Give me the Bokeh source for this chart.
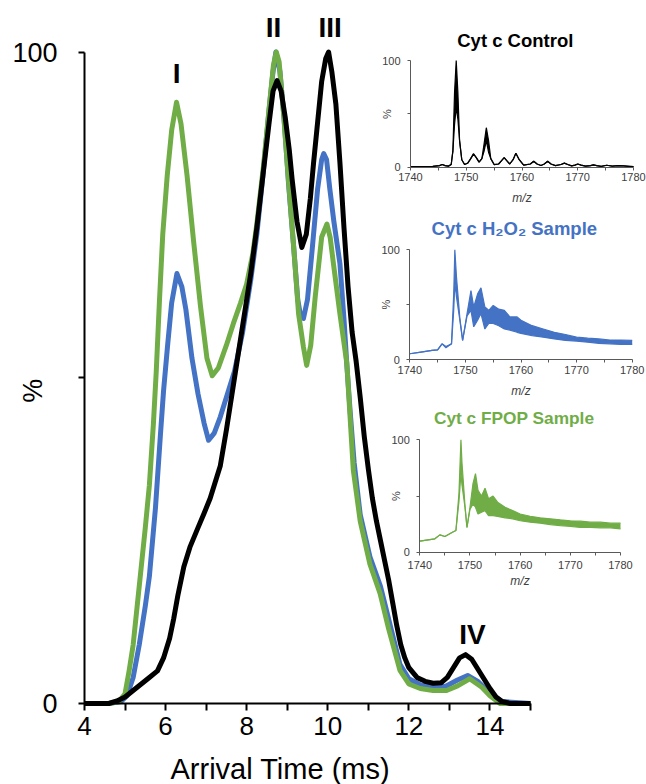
import math
from bokeh.plotting import figure
from bokeh.models import Range1d, LinearAxis, FixedTicker, Label
from bokeh.core.properties import value
from bokeh.embed import file_html
from bokeh.resources import INLINE

# ---------------- data: arrival time distributions (main plot) ----------------
control_time = [4.0, 4.6, 4.8, 5.0, 5.2, 5.4, 5.6, 5.8, 5.95, 6.1, 6.2, 6.3, 6.45, 6.6, 6.8, 6.95,
                7.1, 7.25, 7.35, 7.5, 7.7, 7.9, 8.1, 8.25, 8.4, 8.55, 8.65, 8.75, 8.85, 8.95, 9.05,
                9.12, 9.24, 9.36, 9.47, 9.57, 9.65, 9.73, 9.85, 9.95, 10.02, 10.1, 10.2, 10.3, 10.4,
                10.5, 10.6, 10.7, 10.8, 10.9, 11.0, 11.1, 11.2, 11.3, 11.4, 11.5, 11.6, 11.7, 11.8,
                11.9, 12.0, 12.2, 12.4, 12.6, 12.8, 12.95, 13.1, 13.25, 13.4, 13.55, 13.7, 13.85,
                14.0, 14.15, 14.3, 14.5, 15.0]
control_pct = [0, 0, 0.4, 1.0, 2.0, 3.0, 4.0, 5.0, 7.0, 10.0, 13.0, 16.5, 21.0, 24.0, 27.0, 29.2,
               31.5, 34.5, 36.5, 42, 50, 58, 66, 73, 81, 89, 94, 95.6, 94, 90, 85,
               80.5, 74, 70, 72, 77.5, 83, 88, 95.5, 99, 100, 97, 92, 83, 73,
               64, 57, 52.5, 47, 41, 36, 31.5, 28, 25, 22, 19, 15.5, 12, 9,
               7, 5.5, 4, 3.4, 3.1, 3.2, 4, 5.5, 7, 7.5, 6.8, 5.3, 3.8,
               2.3, 1.0, 0.3, 0, 0]

h2o2_time = [4.0, 4.6, 4.9, 5.05, 5.2, 5.35, 5.5, 5.6, 5.75, 5.87, 5.95, 6.05, 6.15, 6.28, 6.4,
             6.5, 6.65, 6.8, 6.95, 7.06, 7.2, 7.35, 7.5, 7.7, 7.9, 8.1, 8.25, 8.4, 8.55, 8.65,
             8.72, 8.82, 8.92, 9.03, 9.16, 9.26, 9.33, 9.4, 9.5, 9.62, 9.75, 9.85, 9.9, 9.97,
             10.05, 10.15, 10.3, 10.4, 10.47, 10.55, 10.65, 10.8, 11.04, 11.3, 11.5, 11.78, 12.0,
             12.3, 12.9, 13.2, 13.45, 13.7, 14.0, 14.3, 15.0]
h2o2_pct = [0, 0, 0.3, 1.2, 4, 9, 15, 19.5, 30, 41, 48, 55, 61.5, 66, 64,
            60.5, 53, 47.5, 43, 40.4, 41.5, 44, 47, 51, 57, 65, 72, 81, 91, 97,
            100, 97, 90, 80, 70, 62, 59.5, 59.1, 62, 70, 79, 83.5, 84.4, 83.5,
            79, 74, 67.5, 59, 52, 45, 37, 29, 22.5, 18, 13, 6, 3.8,
            2.8, 2.6, 3.6, 4.3, 3.4, 1.6, 0.3, 0]

fpop_time = [4.0, 4.6, 4.85, 5.0, 5.1, 5.2, 5.3, 5.4, 5.5, 5.6, 5.7, 5.77, 5.85, 5.93, 6.04,
             6.15, 6.27, 6.38, 6.53, 6.69, 6.86, 7.02, 7.15, 7.3, 7.5, 7.67, 7.85, 8.0, 8.15,
             8.25, 8.42, 8.58, 8.66, 8.73, 8.8, 8.91, 9.03, 9.16, 9.28, 9.4, 9.48, 9.58, 9.69,
             9.85, 9.98, 10.06, 10.14, 10.3, 10.47, 10.63, 10.8, 11.04, 11.29, 11.5, 11.78,
             12.0, 12.28, 12.6, 12.93, 13.2, 13.5, 13.8, 14.0, 14.25, 15.0]
fpop_pct = [0, 0, 0.3, 1.5, 5, 9, 15, 21, 27, 33.5, 43, 51, 62, 72, 81,
            88, 92.3, 89, 81, 71, 61, 53, 50.3, 51.5, 55, 58.3, 61.5, 64.4, 69,
            73.6, 82.8, 93, 98, 100, 98.5, 90.5, 80.3, 70, 59.8, 54.7, 51.9, 55, 62.4,
            71.6, 73.6, 71.5, 67.5, 59.8, 52.2, 35.8, 28, 21.4, 16.9, 11.5, 5.1,
            3.0, 2.3, 2.0, 2.0, 2.7, 3.8, 2.5, 1.2, 0, 0]

numerals = ["I", "II", "III", "IV"]
numeral_time = [6.27, 8.66, 10.06, 13.57]
numeral_pct = [96.7, 103.7, 103.7, 10.6]

main_x_ticks = [4, 6, 8, 10, 12, 14]
main_x_minor = [5, 7, 9, 11, 13, 15]
main_y_ticks = [0, 50, 100]
main_x_title = "Arrival Time (ms)"
main_y_title = "%"

# ---------------- data: mass spectra (insets), lower/upper envelope ----------------
ctrl_mz = [1740, 1742, 1744, 1745.2, 1745.7, 1746.2, 1746.8, 1747.3, 1747.6, 1747.9, 1748.2,
           1748.5, 1748.8, 1749.2, 1749.7, 1750.3, 1750.8, 1751.3, 1751.8, 1752.3, 1752.8,
           1753.2, 1753.6, 1754.0, 1754.4, 1755.0, 1755.8, 1756.3, 1756.8, 1757.3, 1757.8,
           1758.4, 1758.9, 1759.5, 1760.3, 1761.5, 1762.1, 1762.7, 1763.4, 1764.0, 1764.6,
           1765.2, 1766.0, 1767.0, 1767.6, 1768.2, 1768.9, 1769.5, 1770.0, 1770.6, 1771.4,
           1772.3, 1772.8, 1773.4, 1774.2, 1775.2, 1776.2, 1777.2, 1778.2, 1779.2, 1780]
ctrl_hi = [0.6, 0.6, 0.8, 1.5, 2.5, 1.5, 1.0, 2.5, 15, 70, 100, 70, 25, 7, 2.5, 4, 8, 12.5, 9,
           4.7, 8, 22, 37, 25, 8, 2.5, 3, 6, 9, 6, 3, 7, 13, 7, 2, 3, 5.6, 3, 1.6, 3, 5.6, 3,
           1.5, 2.5, 3.8, 2.5, 1.2, 2, 3, 2, 1, 1.5, 2.2, 1.5, 0.8, 1.8, 1.0, 1.5, 1.2, 0.8, 0.5]
ctrl_lo = [0.6, 0.6, 0.8, 1.5, 2.5, 1.5, 1.0, 2.5, 15, 40, 56, 45, 25, 7, 2.5, 4, 8, 12.5, 9,
           4.7, 8, 15, 25, 14, 8, 2.5, 3, 6, 9, 6, 3, 7, 13, 7, 2, 3, 5.6, 3, 1.6, 3, 5.6, 3,
           1.5, 2.5, 3.8, 2.5, 1.2, 2, 3, 2, 1, 1.5, 2.2, 1.5, 0.8, 1.8, 1.0, 1.5, 1.2, 0.8, 0.5]

h2o2_mz = [1740, 1742, 1744, 1745, 1745.8, 1746.5, 1747.5, 1747.9, 1748.1, 1748.4, 1749.0,
           1749.5, 1750.3, 1751.0, 1751.5, 1752.2, 1752.8, 1753.5, 1754.2, 1755.0, 1756.0,
           1757.0, 1758.0, 1759.3, 1760.0, 1762.0, 1764.0, 1766.0, 1768.0, 1770.0, 1772.0,
           1774.0, 1776.0, 1778.0, 1780.0]
h2o2_hi = [5.5, 7, 8.5, 9, 14.5, 12, 14.5, 60, 100, 75, 38, 17.6, 42, 63, 48, 60, 65.5, 48, 45,
           49.4, 46, 45, 39, 39, 36, 31, 28, 25, 23, 20.6, 19.7, 19, 18, 18, 17.6]
h2o2_lo = [5.5, 7, 8.5, 9, 14.5, 11, 14.5, 45, 70, 57, 36, 17.6, 40, 45, 30, 36, 42, 28, 33,
           33, 31, 28, 27, 25, 24, 22, 20.6, 19, 17.6, 17, 16, 15, 14.5, 14, 14]

fpop_mz = [1740, 1743, 1744, 1745, 1746.5, 1747.2, 1747.8, 1748.2, 1748.4, 1749.0, 1749.4,
           1750.0, 1750.6, 1751.1, 1751.6, 1752.3, 1753.0, 1753.7, 1754.6, 1755.5, 1757.0,
           1758.5, 1760.0, 1762.0, 1764.0, 1766.0, 1768.0, 1770.0, 1772.0, 1774.0, 1776.0,
           1778.0, 1780.0]
fpop_hi = [9.8, 11.9, 15.4, 14, 17.8, 19.3, 52, 100, 80, 42, 22, 40, 61, 70, 55, 50, 57, 47.5,
           50, 44.5, 40, 37, 34, 32, 30.6, 29.7, 28.8, 28, 27.6, 26.7, 26.7, 25.8, 25.8]
fpop_lo = [9.8, 11.9, 15.4, 14, 17.8, 19.3, 45, 70, 60, 40, 22, 38, 43, 40, 34, 35.6, 37, 32.6,
           32.6, 31.8, 30.6, 29.7, 28, 26.7, 25.8, 24.6, 23.7, 23, 22, 22, 21.7, 21.7, 20.8]

inset_titles = ["Cyt c Control", "Cyt c H\u2082O\u2082 Sample", "Cyt c FPOP Sample"]
inset_mz_ticks = [1740, 1750, 1760, 1770, 1780]
inset_mz_minor = [1745, 1755, 1765, 1775]
inset_pct_ticks = [0, 50, 100]

# ---------------- styling / layout ----------------
BLUE = "#4472C4"
GREEN = "#70AD47"
BLACK = "#000000"
FONT = "Liberation Sans"
INSET_AXIS = "#595959"
INSET_TEXT = "#404040"

W, H = 646, 784
FL, FR, FT, FB = 0, W, 0, H  # the frame fills the whole canvas; axes are placed inside it


def xr(px0, px1, v0, v1):
    s = (v1 - v0) / (px1 - px0)
    return Range1d(start=v0 - (px0 - FL) * s, end=v0 + (FR - px0) * s)


def yr(py0, py1, v0, v1):
    s = (v1 - v0) / (py0 - py1)
    return Range1d(start=v0 - (FB - py0) * s, end=v0 + (py0 - FT) * s)


p = figure(width=W, height=H, x_range=xr(84, 530, 4, 15), y_range=yr(703, 51.5, 0, 100),
           output_backend="svg", toolbar_location=None,
           x_axis_type=None, y_axis_type=None,
           min_border_left=0, min_border_right=0, min_border_top=0, min_border_bottom=0)
p.outline_line_color = None
p.background_fill_color = "white"
p.border_fill_color = "white"

# main axes (placed at x=4 / y=0 inside the canvas-filling frame)
xa = LinearAxis(fixed_location=0, bounds=(4, 15),
                ticker=FixedTicker(ticks=main_x_ticks, minor_ticks=main_x_minor))
xa.axis_line_width = 2
xa.major_tick_line_width = 2
xa.minor_tick_line_width = 2
xa.major_tick_out = 7
xa.major_tick_in = 0
xa.minor_tick_out = 7
xa.minor_tick_in = 0
xa.major_label_text_font = FONT
xa.major_label_text_font_size = "26px"
xa.major_label_text_color = BLACK
xa.major_label_standoff = 6
p.add_layout(xa, "below")

ya = LinearAxis(fixed_location=4, bounds=(0, 100),
                ticker=FixedTicker(ticks=main_y_ticks, minor_ticks=[]),
                major_label_overrides={50: ""})
ya.axis_line_width = 2
ya.major_tick_line_width = 2
ya.major_tick_out = 6
ya.major_tick_in = 0
ya.minor_tick_out = 0
ya.minor_tick_in = 0
ya.major_label_text_font = FONT
ya.major_label_text_font_size = "27px"
ya.major_label_text_color = BLACK
ya.major_label_standoff = 21
p.add_layout(ya, "left")

p.add_layout(Label(x=8.83, y=-10.0, text=main_x_title, text_font=FONT,
                   text_font_size="29px", text_color=BLACK,
                   text_align="center", text_baseline="middle"))
p.add_layout(Label(x=2.72, y=48.0, text=main_y_title, text_font=FONT,
                   text_font_size="27px", text_color=BLACK, angle=math.pi / 2,
                   text_align="center", text_baseline="middle"))

# main curves
p.line(h2o2_time, h2o2_pct, line_color=BLUE, line_width=5, line_join="round")
p.line(fpop_time, fpop_pct, line_color=GREEN, line_width=5, line_join="round")
p.line(control_time, control_pct, line_color=BLACK, line_width=5, line_join="round")

p.text(x=numeral_time, y=numeral_pct, text=numerals, text_font=value(FONT),
       text_font_style="bold", text_font_size="28px", text_align="center",
       text_baseline="alphabetic", text_color=BLACK)

# insets: (key, pixel anchors, data, colour, title, title size, tick-label standoff, m/z standoff)
insets = [
    ("c", (410, 633, 166.7, 60.0), ctrl_mz, ctrl_lo, ctrl_hi, BLACK, inset_titles[0], "18.5px", 3, 6),
    ("h", (409.3, 631.7, 359.3, 249.3), h2o2_mz, h2o2_lo, h2o2_hi, BLUE, inset_titles[1], "18.5px", 3, 7),
    ("f", (419.3, 620.0, 551.7, 439.3), fpop_mz, fpop_lo, fpop_hi, GREEN, inset_titles[2], "17.3px", 6, 1),
]

extra_x = {}
extra_y = {}
for key, (x0, x1, y0, y1), *_ in insets:
    extra_x[key + "x"] = xr(x0, x1, 1740, 1780)
    extra_y[key + "y"] = yr(y0, y1, 0, 100)
p.extra_x_ranges = extra_x
p.extra_y_ranges = extra_y

for key, _, mz, lo, hi, color, title, tsize, lab_off, mz_off in insets:
    kx, ky = key + "x", key + "y"
    p.varea(x=mz, y1=lo, y2=hi, fill_color=color, x_range_name=kx, y_range_name=ky)
    p.line(mz, hi, line_color=color, line_width=1.2, x_range_name=kx, y_range_name=ky)
    p.line(mz, lo, line_color=color, line_width=1.2, x_range_name=kx, y_range_name=ky)

    ax = LinearAxis(x_range_name=kx, y_range_name=ky, fixed_location=0, bounds=(1740, 1780),
                    ticker=FixedTicker(ticks=inset_mz_ticks, minor_ticks=inset_mz_minor),
                    axis_label="m/z")
    ax.axis_line_color = INSET_AXIS
    ax.major_tick_line_color = INSET_AXIS
    ax.minor_tick_line_color = INSET_AXIS
    ax.major_tick_out = 3
    ax.major_tick_in = 0
    ax.minor_tick_out = 3
    ax.minor_tick_in = 0
    ax.major_label_text_font = FONT
    ax.major_label_text_font_size = "11px"
    ax.major_label_text_color = INSET_TEXT
    ax.major_label_standoff = lab_off
    ax.axis_label_text_font = FONT
    ax.axis_label_text_font_size = "12px"
    ax.axis_label_text_font_style = "italic"
    ax.axis_label_text_color = INSET_TEXT
    ax.axis_label_standoff = mz_off
    p.add_layout(ax, "below")

    ay = LinearAxis(x_range_name=kx, y_range_name=ky, fixed_location=1740, bounds=(0, 100),
                    ticker=FixedTicker(ticks=inset_pct_ticks, minor_ticks=[]),
                    axis_label="%", major_label_overrides={50: ""})
    ay.axis_line_color = INSET_AXIS
    ay.major_tick_line_color = INSET_AXIS
    ay.major_tick_out = 3
    ay.major_tick_in = 0
    ay.minor_tick_out = 0
    ay.minor_tick_in = 0
    ay.major_label_text_font = FONT
    ay.major_label_text_font_size = "11px"
    ay.major_label_text_color = INSET_TEXT
    ay.major_label_standoff = 7
    ay.axis_label_text_font = FONT
    ay.axis_label_text_font_size = "11px"
    ay.axis_label_text_font_style = "normal"
    ay.axis_label_text_color = INSET_TEXT
    ay.axis_label_standoff = -14
    p.add_layout(ay, "left")

    p.add_layout(Label(x=1758.8, y=119, x_range_name=kx, y_range_name=ky, text=title,
                       text_font=FONT, text_font_style="bold", text_font_size=tsize,
                       text_color=color, text_align="center", text_baseline="middle"))

open("out.html", "w").write(file_html(p, INLINE))
